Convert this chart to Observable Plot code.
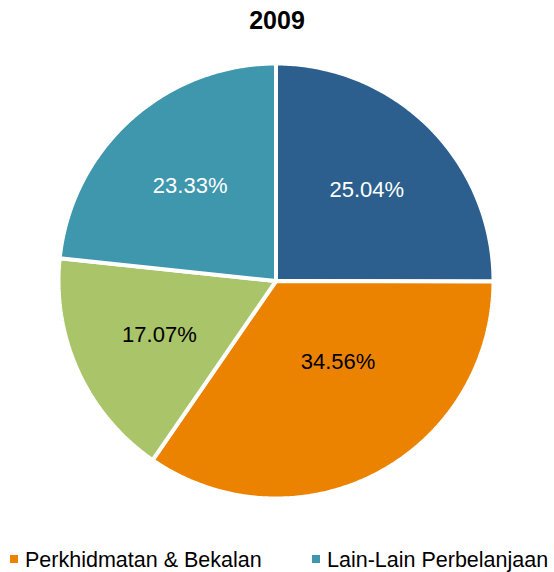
<!DOCTYPE html>
<html>
<head>
<meta charset="utf-8">
<script src="https://cdn.jsdelivr.net/npm/d3@7"></script>
<script src="https://cdn.jsdelivr.net/npm/@observablehq/plot@0.6"></script>
<style>
  html, body { margin: 0; padding: 0; background: #fff; }
  body { width: 554px; height: 572px; overflow: hidden; font-family: Arial, "Liberation Sans", sans-serif; position: relative; }
  #title { height: 40px; line-height: 40px; text-align: center; font-weight: bold; font-size: 25px; color: #000; }
  #legend { position: absolute; top: 547px; left: 0; font-size: 21.5px; line-height: 26px; color: #000; white-space: nowrap; width: 554px; }
  .item { position: absolute; top: 0; }
  .sw { display: inline-block; width: 8px; height: 8px; margin-right: 7px; vertical-align: 4px; }
</style>
</head>
<body>
<div id="title">2009</div>
<div id="chart"></div>
<div id="legend"></div>
<script>
const title = "2009";
const categories = ["Emolumen", "Perkhidmatan & Bekalan", "Aset", "Lain-Lain Perbelanjaan"];
const values = [25.04, 34.56, 17.07, 23.33];
const labels = ["25.04%", "34.56%", "17.07%", "23.33%"];
const colors = ["#2c5f8e", "#eb8300", "#aac46a", "#3e97ad"];
const labelColors = ["#ffffff", "#000000", "#000000", "#ffffff"];
const legendShown = [1, 3];

const data = categories.map((c, i) => ({category: c, value: values[i], label: labels[i], color: colors[i], labelColor: labelColors[i]}));
const arcs = d3.pie().sort(null).value(d => d.value)(data);

// slice outlines in unit coordinates (angle measured clockwise from top)
const slices = arcs.map(a => {
  const pts = [[0, 0]];
  const n = Math.max(2, Math.ceil((a.endAngle - a.startAngle) / 0.01));
  for (let k = 0; k <= n; k++) {
    const t = a.startAngle + (a.endAngle - a.startAngle) * k / n;
    pts.push([Math.sin(t), Math.cos(t)]);
  }
  pts.push([0, 0]);
  return {d: a.data, pts};
});
const labelPts = arcs.map(a => {
  const m = (a.startAngle + a.endAngle) / 2;
  const r = a.data.value > 30 ? 0.47 : 0.59;
  const shift = a.data.value > 30 ? -0.17 : 0;
  return {x: r * Math.sin(m + shift), y: r * Math.cos(m + shift), label: a.data.label, color: a.data.labelColor};
});

const plot = Plot.plot({
  width: 554,
  height: 490,
  marginLeft: 58,
  marginRight: 61,
  marginTop: 23,
  marginBottom: 32,
  x: {domain: [-1, 1], axis: null},
  y: {domain: [-1, 1], axis: null},
  style: {fontFamily: "Arial, 'Liberation Sans', sans-serif", background: "#fff"},
  marks: [
    ...slices.map(s => Plot.line(s.pts, {x: d => d[0], y: d => d[1], fill: s.d.color, stroke: "white", strokeWidth: 4, strokeLinejoin: "miter", curve: "linear"})),
    Plot.text(labelPts, {x: "x", y: "y", text: "label", fill: "color", fontSize: 22})
  ]
});
document.getElementById("chart").appendChild(plot);

const legend = document.getElementById("legend");
const legendLeft = [10, 312];
legendShown.forEach((i, j) => {
  const span = document.createElement("span");
  span.className = "item";
  span.style.left = legendLeft[j] + "px";
  span.innerHTML = `<span class="sw" style="background:${colors[i]}"></span>${categories[i]}`;
  legend.appendChild(span);
});
</script>
</body>
</html>
